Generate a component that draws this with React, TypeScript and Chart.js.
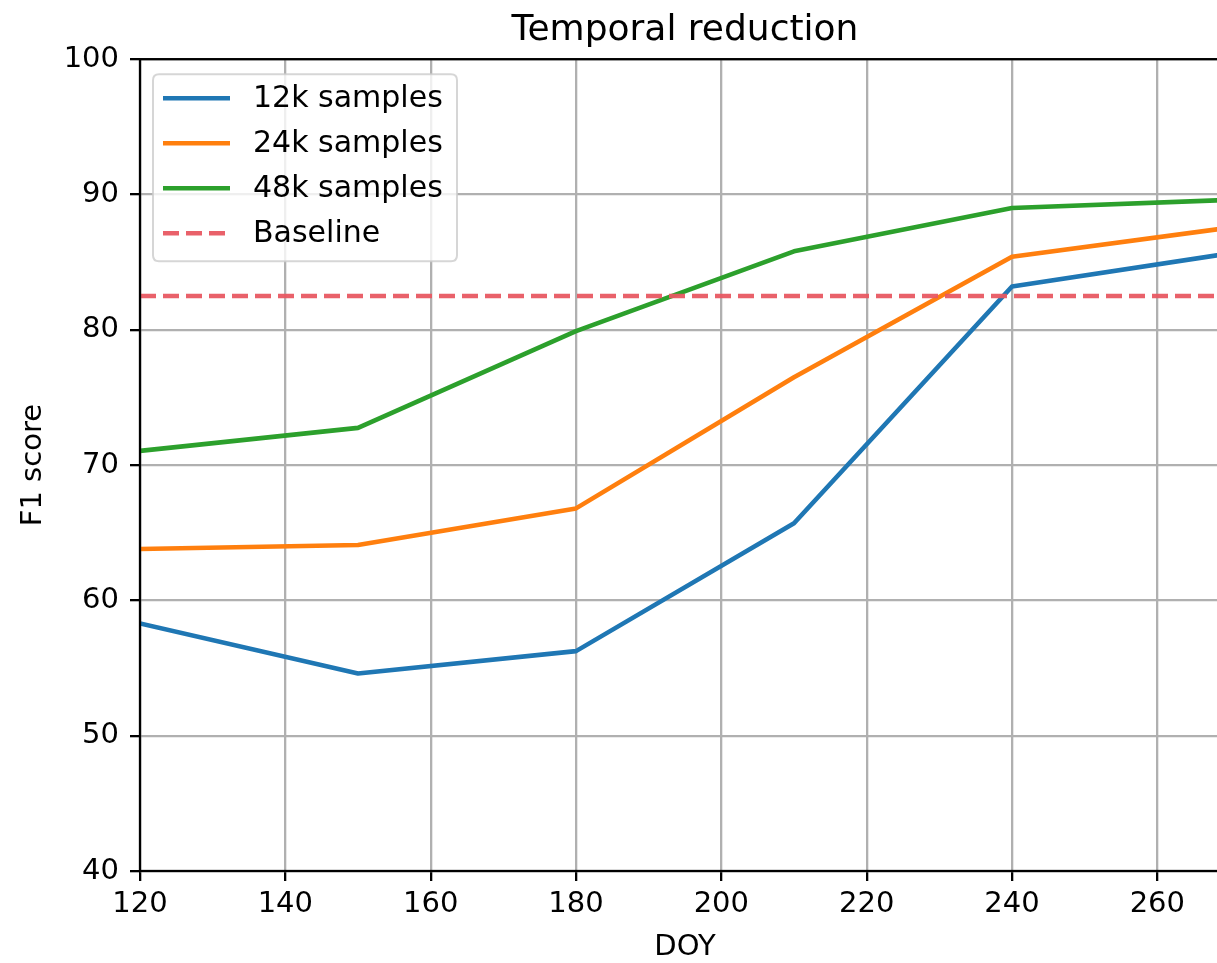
import React, { useEffect, useRef } from "react";
import { Chart, registerables } from "chart.js";

Chart.register(...registerables);

// ---- data ----
const doy = [120, 150, 180, 210, 240, 270];
const f1_12k = [58.3, 54.6, 56.25, 65.7, 83.2, 85.65];
const f1_24k = [63.8, 64.1, 66.8, 76.5, 85.4, 87.55];
const f1_48k = [71.05, 72.75, 79.9, 85.8, 89.0, 89.6];
const baselineValue = 82.5;
const seriesLabels = ["12k samples", "24k samples", "48k samples", "Baseline"];
const xTicks = [120, 140, 160, 180, 200, 220, 240, 260];
const yTicks = [40, 50, 60, 70, 80, 90, 100];
const xRange = [120, 270];
const yRange = [40, 100];
const chartTitle = "Temporal reduction";
const xTitle = "DOY";
const yTitle = "F1 score";

const FONT = "'DejaVu Sans', sans-serif";
const LW = 4.6;
const GRID_LW = 2.3;

const framePlugin = {
  id: "mplFrame",
  afterDatasetsDraw(chart: any) {
    const { ctx, chartArea } = chart;
    ctx.save();
    ctx.strokeStyle = "#000";
    ctx.lineWidth = GRID_LW;
    ctx.strokeRect(
      chartArea.left,
      chartArea.top,
      chartArea.right - chartArea.left,
      chartArea.bottom - chartArea.top
    );
    ctx.restore();
  },
};

const legendPlugin = {
  id: "mplLegend",
  afterDraw(chart: any) {
    const { ctx, chartArea } = chart;
    const x0 = chartArea.left + 13;
    const y0 = chartArea.top + 15;
    const w = 304;
    const h = 187;
    const r = 6;
    ctx.save();
    ctx.beginPath();
    ctx.moveTo(x0 + r, y0);
    ctx.lineTo(x0 + w - r, y0);
    ctx.quadraticCurveTo(x0 + w, y0, x0 + w, y0 + r);
    ctx.lineTo(x0 + w, y0 + h - r);
    ctx.quadraticCurveTo(x0 + w, y0 + h, x0 + w - r, y0 + h);
    ctx.lineTo(x0 + r, y0 + h);
    ctx.quadraticCurveTo(x0, y0 + h, x0, y0 + h - r);
    ctx.lineTo(x0, y0 + r);
    ctx.quadraticCurveTo(x0, y0, x0 + r, y0);
    ctx.closePath();
    ctx.fillStyle = "rgba(255,255,255,0.8)";
    ctx.fill();
    ctx.strokeStyle = "rgba(204,204,204,0.8)";
    ctx.lineWidth = 2;
    ctx.stroke();

    const ds = chart.data.datasets;
    ctx.font = `30px ${FONT}`;
    ctx.textBaseline = "middle";
    ctx.textAlign = "left";
    for (let i = 0; i < ds.length; i++) {
      const y = y0 + 24 + i * 45;
      ctx.beginPath();
      ctx.setLineDash(ds[i].borderDash || []);
      ctx.strokeStyle = ds[i].borderColor;
      ctx.lineWidth = ds[i].borderWidth;
      ctx.moveTo(x0 + 10, y);
      ctx.lineTo(x0 + 77, y);
      ctx.stroke();
      ctx.setLineDash([]);
      ctx.fillStyle = "#000";
      ctx.fillText(ds[i].label, x0 + 100, y + 1);
    }
    ctx.restore();
  },
};

export default function App() {
  const ref = useRef<HTMLCanvasElement | null>(null);

  useEffect(() => {
    document.body.style.margin = "0";
    const canvas = ref.current;
    if (!canvas) return;
    const mk = (ys: number[]) => doy.map((x, i) => ({ x, y: ys[i] }));
    const chart = new Chart(canvas, {
      type: "line",
      data: {
        datasets: [
          {
            label: seriesLabels[0],
            data: mk(f1_12k),
            borderColor: "#1f77b4",
            borderWidth: LW,
            pointRadius: 0,
            order: 3,
          },
          {
            label: seriesLabels[1],
            data: mk(f1_24k),
            borderColor: "#ff7f0e",
            borderWidth: LW,
            pointRadius: 0,
            order: 2,
          },
          {
            label: seriesLabels[2],
            data: mk(f1_48k),
            borderColor: "#2ca02c",
            borderWidth: LW,
            pointRadius: 0,
            order: 1,
          },
          {
            label: seriesLabels[3],
            data: [
              { x: xRange[0], y: baselineValue },
              { x: xRange[1], y: baselineValue },
            ],
            borderColor: "rgba(232,88,98,0.95)",
            borderWidth: LW,
            borderDash: [16, 7],
            pointRadius: 0,
            order: 0,
          },
        ] as any,
      },
      options: {
        animation: false,
        responsive: false,
        devicePixelRatio: 1,
        layout: { padding: { left: 0, right: 30, top: 0, bottom: 0 } },
        elements: { line: { tension: 0, borderJoinStyle: "round", borderCapStyle: "butt" } },
        plugins: {
          legend: { display: false },
          tooltip: { enabled: false },
          title: {
            display: true,
            text: chartTitle,
            fullSize: false,
            color: "#000",
            font: { family: FONT, size: 36, weight: "normal" },
            padding: { top: 9, bottom: 7 },
          },
        },
        scales: {
          x: {
            type: "linear",
            min: xRange[0],
            max: xRange[1],
            afterBuildTicks: (s: any) => {
              s.ticks = xTicks.map((v) => ({ value: v }));
            },
            afterFit: (s: any) => {
              s.height = 92;
            },
            ticks: {
              color: "#000",
              font: { family: FONT, size: 29 },
              padding: 6,
              maxRotation: 0,
              autoSkip: false,
              includeBounds: false,
            },
            grid: {
              color: "#b0b0b0",
              lineWidth: GRID_LW,
              drawTicks: true,
              tickLength: 10,
              tickColor: "#000",
              tickWidth: GRID_LW,
            },
            border: { display: false },
            title: {
              display: true,
              text: xTitle,
              color: "#000",
              font: { family: FONT, size: 29 },
              padding: { top: 0, bottom: -2 },
            },
          },
          y: {
            type: "linear",
            min: yRange[0],
            max: yRange[1],
            afterBuildTicks: (s: any) => {
              s.ticks = yTicks.map((v) => ({ value: v }));
            },
            afterFit: (s: any) => {
              s.width = 140;
            },
            ticks: {
              color: "#000",
              font: { family: FONT, size: 29 },
              padding: 11,
              autoSkip: false,
              includeBounds: false,
            },
            grid: {
              color: "#b0b0b0",
              lineWidth: GRID_LW,
              drawTicks: true,
              tickLength: 10,
              tickColor: "#000",
              tickWidth: GRID_LW,
            },
            border: { display: false },
            title: {
              display: true,
              text: yTitle,
              color: "#000",
              font: { family: FONT, size: 29 },
              padding: { top: 16, bottom: 0 },
            },
          },
        },
      } as any,
      plugins: [framePlugin, legendPlugin],
    });
    return () => chart.destroy();
  }, []);

  return (
    <div style={{ width: 1217, height: 963, overflow: "hidden", position: "relative" }}>
      <canvas ref={ref} width={1260} height={963} style={{ display: "block" }} />
    </div>
  );
}
